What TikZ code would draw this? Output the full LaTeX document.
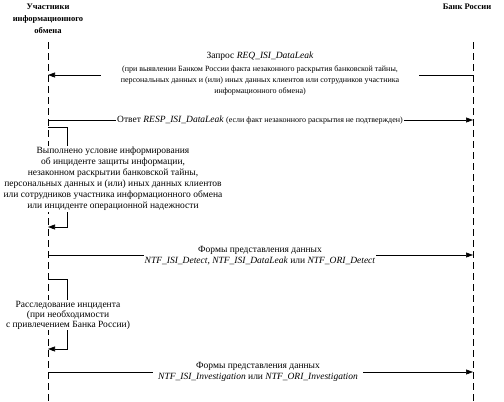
\documentclass[tikz,border=0pt]{standalone}
\usepackage{fontspec}
\setmainfont{Liberation Serif}
\usetikzlibrary{positioning,arrows.meta}
\newcommand{\smalltxt}{\fontsize{8}{12}\selectfont}

\begin{document}
\begin{tikzpicture}[
    x=1pt, y=-1pt,
    >={Triangle[length=7pt, width=5pt]},
    font=\fontsize{9.5}{11}\selectfont,
    title/.style    = {font=\fontsize{8.5}{12}\selectfont\bfseries, align=center},
    lifeline/.style = {line width=0.6pt, dash pattern=on 7pt off 4pt},
    msg/.style      = {->, line width=0.6pt},
    label/.style    = {fill=white, align=center, inner ysep=1pt}
]
\useasboundingbox (0,0) rectangle (504,402);

% PARTICIPANTS
\node[title] (pA) at (48,19) {Участники\\информационного\\обмена};
\node[title] (pB) at (467,7) {Банк России};

% LIFELINES
\coordinate (aT) at (48,42);  \coordinate (aB) at (48,402);
\coordinate (bT) at (473,42); \coordinate (bB) at (473,402);
\draw[lifeline] (aT) -- (aB);
\draw[lifeline] (bT) -- (bB);

% MESSAGE POINTS ON THE LIFELINES
\foreach \n/\y in {1/75, 2/120, 3/255, 4/372}{
  \coordinate (a\n) at (48,\y);
  \coordinate (b\n) at (473,\y);
}

% REQUEST (bank -> participant)
\draw[msg] (b1) -- (a1);
\node[label, inner xsep=20pt] (req) at (260,74)
  {Запрос \textit{REQ\_ISI\_DataLeak}\\[2pt]
   {\smalltxt (при выявлении Банком России факта незаконного раскрытия  банковской тайны,}\\
   {\smalltxt персональных данных  и (или) иных данных клиентов или сотрудников участника}\\
   {\smalltxt информационного обмена)}};

% RESPONSE (participant -> bank)
\draw[msg] (a2) -- (b2);
\node[label, inner xsep=1pt] (resp) at (260,120)
  {Ответ \textit{RESP\_ISI\_DataLeak} {\smalltxt (если факт незаконного раскрытия не подтвержден)}};

% SELF MESSAGE: incident condition
\coordinate (s1T) at (48,127); \coordinate (s1B) at (48,227);
\draw[msg] (s1T) -- ++(19,0) |- (s1B);
\node[label] (cond) at (113,179)
  {Выполнено условие информирования\\
   об инциденте защиты информации,\\
   незаконном раскрытии банковской тайны,\\
   персональных данных и (или) иных данных клиентов\\
   или сотрудников участника информационного обмена\\
   или инциденте операционной надежности};

% NOTIFICATION 1
\draw[msg] (a3) -- (b3);
\node[label, inner xsep=1pt] (ntf1) at (260,256)
  {Формы представления данных\\
   \textit{NTF\_ISI\_Detect, NTF\_ISI\_DataLeak} или \textit{NTF\_ORI\_Detect}};

% SELF MESSAGE: investigation
\coordinate (s2T) at (48,279); \coordinate (s2B) at (48,349);
\draw[msg] (s2T) -- ++(19,0) |- (s2B);
\node[label, font=\fontsize{9.5}{10}\selectfont] (inv) at (68,315)
  {Расследование инцидента\\
   (при необходимости\\
   с привлечением Банка России)};

% NOTIFICATION 2
\draw[msg] (a4) -- (b4);
\node[label, inner xsep=5pt] (ntf2) at (258,372)
  {Формы представления данных\\
   \textit{NTF\_ISI\_Investigation} или \textit{NTF\_ORI\_Investigation}};

\end{tikzpicture}
\end{document}
